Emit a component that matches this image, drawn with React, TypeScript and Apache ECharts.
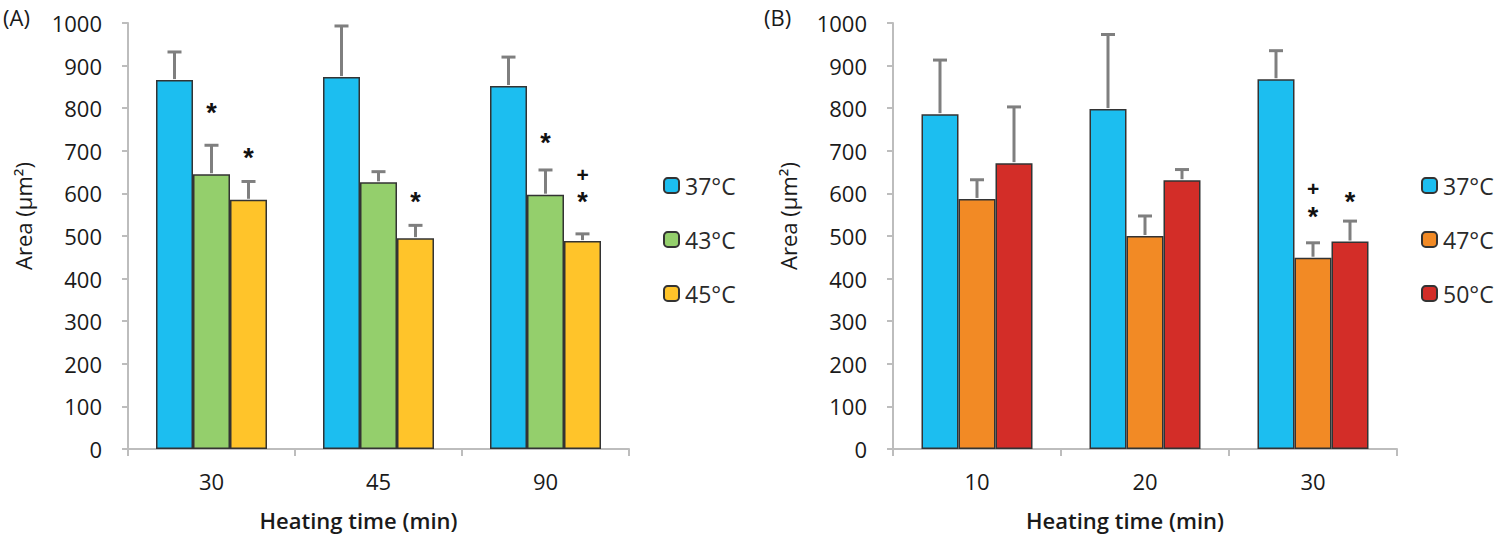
import React, { useEffect, useRef } from "react";
import * as echarts from "echarts";

// ---- Data ----
const catsA = ["30", "45", "90"];
const catsB = ["10", "20", "30"];
const namesA = ["37°C", "43°C", "45°C"];
const namesB = ["37°C", "47°C", "50°C"];
const colorsA = ["#1CBEF0", "#94CF6C", "#FFC42A"];
const colorsB = ["#1CBEF0", "#F28A25", "#D32D28"];

const a37 = [866, 873, 852];
const a43 = [645, 626, 597];
const a45 = [585, 495, 488];
const a37err = [66, 120, 68];
const a43err = [68, 25, 58];
const a45err = [43, 30, 17];

const b37 = [786, 798, 868];
const b47 = [587, 500, 449];
const b50 = [671, 631, 487];
const b37err = [127, 175, 67];
const b47err = [45, 47, 35];
const b50err = [132, 25, 48];

// significance marks: [categoryIndex, barIndex, yPosition(value units), text]
const marksA: [number, number, number, string][] = [
  [0, 1, 800, "*"],
  [0, 2, 695, "*"],
  [1, 2, 592, "*"],
  [2, 1, 730, "*"],
  [2, 2, 645, "+"],
  [2, 2, 592, "*"],
];
const marksB: [number, number, number, string][] = [
  [2, 1, 612, "+"],
  [2, 1, 556, "*"],
  [2, 2, 592, "*"],
];

const yTicks = { min: 0, max: 1000, interval: 100 };

const FONT = "'Open Sans', 'Noto Sans', sans-serif";
const BAR_W = 37;

export default function App() {
  const ref = useRef<HTMLDivElement>(null);
  useEffect(() => {
    document.body.style.margin = "0";
    const chart = echarts.init(ref.current!, undefined, { renderer: "svg" });

    const grids = [
      { left: 128, top: 23, width: 501, height: 426 },
      { left: 893, top: 23, width: 504, height: 426 },
    ];

    const mkX = (i: number, cats: string[]) => ({
      type: "category",
      gridIndex: i,
      data: cats,
      axisLine: { lineStyle: { color: "#BDBDBD", width: 2 } },
      axisTick: { show: true, length: 7, lineStyle: { color: "#BDBDBD", width: 2 } },
      axisLabel: { fontSize: 22, color: "#1a1a1a", fontFamily: FONT, margin: 21 },
      name: "Heating time (min)",
      nameLocation: "middle",
      nameGap: 60,
      nameTextStyle: { fontSize: 22, fontWeight: 600, color: "#1a1a1a", fontFamily: FONT, padding: [0, 40, 0, 0] },
    });
    const mkY = (i: number) => ({
      type: "value",
      gridIndex: i,
      min: yTicks.min,
      max: yTicks.max,
      interval: yTicks.interval,
      splitLine: { show: false },
      axisLine: { show: true, lineStyle: { color: "#BDBDBD", width: 2 } },
      axisTick: { show: true, length: 6, lineStyle: { color: "#BDBDBD", width: 2 } },
      axisLabel: {
        fontSize: 22,
        color: "#1a1a1a",
        fontFamily: FONT,
        margin: 26,
        formatter: (v: number) => String(v),
      },
      name: "Area (μm²)",
      nameLocation: "middle",
      nameRotate: 90,
      nameGap: 94,
      nameTextStyle: { fontSize: 22, color: "#1a1a1a", fontFamily: FONT, padding: [0, 0, 0, 40] },
    });

    const barSeries = (
      gi: number,
      name: string,
      data: number[],
      color: string
    ) => ({
      type: "bar",
      name,
      xAxisIndex: gi,
      yAxisIndex: gi,
      data,
      barWidth: BAR_W,
      barGap: "0%",
      itemStyle: { color, borderColor: "#333", borderWidth: 1.5 },
    });

    const errSeries = (gi: number, means: number[][], errs: number[][]) => {
      const data: number[][] = [];
      means.forEach((arr, b) =>
        arr.forEach((m, c) => data.push([c, b, m, errs[b][c]]))
      );
      return {
        type: "custom",
        xAxisIndex: gi,
        yAxisIndex: gi,
        z: 5,
        data,
        renderItem: (_p: any, api: any) => {
          const c = api.value(0);
          const b = api.value(1);
          const m = api.value(2);
          const e = api.value(3);
          const base = api.coord([c, m]);
          const top = api.coord([c, m + e]);
          const x = base[0] + (b - 1) * BAR_W;
          const style = { stroke: "#7F7F7F", lineWidth: 3 };
          return {
            type: "group",
            children: [
              { type: "line", shape: { x1: x, y1: base[1] - 1, x2: x, y2: top[1] }, style },
              { type: "line", shape: { x1: x - 7, y1: top[1], x2: x + 7, y2: top[1] }, style },
            ],
          };
        },
      };
    };

    const markSeries = (gi: number, marks: [number, number, number, string][]) => ({
      type: "custom",
      xAxisIndex: gi,
      yAxisIndex: gi,
      z: 6,
      data: marks.map((m) => [m[0], m[1], m[2]]),
      renderItem: (p: any, api: any) => {
        const c = api.value(0);
        const b = api.value(1);
        const y = api.value(2);
        const pt = api.coord([c, y]);
        const txt = marks[p.dataIndex][3];
        const star = txt === "*";
        return {
          type: "text",
          x: pt[0] + (b - 1) * BAR_W,
          y: pt[1] + (star ? 5 : 0),
          style: {
            text: txt,
            fill: "#111",
            font: star ? `bold 27px 'Liberation Sans', sans-serif` : `bold 21px 'Liberation Sans', sans-serif`,
            align: "center",
            verticalAlign: "middle",
          },
        };
      },
    });

    const legend = (left: number, data: string[]) => ({
      orient: "vertical",
      left,
      top: 169,
      itemWidth: 15,
      itemHeight: 15,
      itemGap: 31,
      data,
      textStyle: { fontSize: 23, color: "#2a2a2a", fontFamily: FONT, padding: [0, 0, 0, 1] },
      selectedMode: false,
    });

    chart.setOption({
      animation: false,
      backgroundColor: "#fff",
      grid: grids,
      xAxis: [mkX(0, catsA), mkX(1, catsB)],
      yAxis: [mkY(0), mkY(1)],
      legend: [legend(658, namesA), legend(1416, namesB)],
      series: [
        barSeries(0, namesA[0], a37, colorsA[0]),
        barSeries(0, namesA[1], a43, colorsA[1]),
        barSeries(0, namesA[2], a45, colorsA[2]),
        barSeries(1, namesB[0], b37, colorsB[0]),
        barSeries(1, namesB[1], b47, colorsB[1]),
        barSeries(1, namesB[2], b50, colorsB[2]),
        errSeries(0, [a37, a43, a45], [a37err, a43err, a45err]),
        errSeries(1, [b37, b47, b50], [b37err, b47err, b50err]),
        markSeries(0, marksA),
        markSeries(1, marksB),
      ],
      graphic: [
        { type: "text", left: 3, top: 6, style: { text: "(A)", font: `22px ${FONT}`, fill: "#1a1a1a" } },
        { type: "text", left: 764, top: 6, style: { text: "(B)", font: `22px ${FONT}`, fill: "#1a1a1a" } },
      ],
    });
    return () => chart.dispose();
  }, []);
  return <div ref={ref} style={{ width: 1500, height: 539 }} />;
}
